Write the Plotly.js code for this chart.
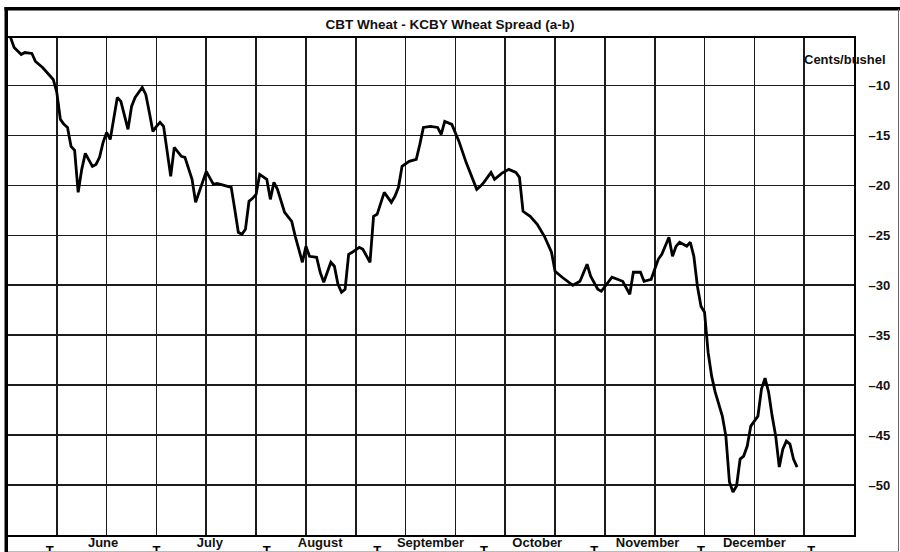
<!DOCTYPE html>
<html>
<head>
<meta charset="utf-8">
<script src="https://cdn.plot.ly/plotly-3.0.1.min.js"></script>
<style>
html,body{margin:0;padding:0;background:#fff;}
#chart{width:900px;height:552px;}
</style>
</head>
<body>
<div id="chart"></div>
<script>
// ---------- data ----------
const chartTitle = 'CBT Wheat - KCBY Wheat Spread (a-b)';
const unitLabel = 'Cents/bushel';

const dates = [
 '2023-05-21','2023-05-22','2023-05-24','2023-05-25','2023-05-27','2023-05-28','2023-05-30','2023-05-31',
 '2023-06-01','2023-06-02','2023-06-03','2023-06-04','2023-06-05','2023-06-06','2023-06-07','2023-06-08',
 '2023-06-09','2023-06-10','2023-06-11','2023-06-13','2023-06-14','2023-06-15','2023-06-16','2023-06-17',
 '2023-06-18','2023-06-20','2023-06-21','2023-06-23','2023-06-24','2023-06-25','2023-06-27','2023-06-28',
 '2023-06-29','2023-06-30',
 '2023-07-01','2023-07-02','2023-07-03','2023-07-04','2023-07-05','2023-07-06','2023-07-08','2023-07-09',
 '2023-07-11','2023-07-12','2023-07-13','2023-07-15','2023-07-17','2023-07-18','2023-07-19','2023-07-22',
 '2023-07-23','2023-07-24','2023-07-25','2023-07-26','2023-07-27','2023-07-28','2023-07-29','2023-07-30',
 '2023-08-01','2023-08-02','2023-08-03','2023-08-04','2023-08-06','2023-08-07','2023-08-08','2023-08-09',
 '2023-08-11','2023-08-12','2023-08-13','2023-08-15','2023-08-16','2023-08-17','2023-08-19','2023-08-20',
 '2023-08-21','2023-08-22','2023-08-23','2023-08-24','2023-08-25','2023-08-27','2023-08-28','2023-08-30',
 '2023-08-31',
 '2023-09-01','2023-09-03','2023-09-05','2023-09-06','2023-09-07','2023-09-08','2023-09-10','2023-09-12',
 '2023-09-13','2023-09-14','2023-09-16','2023-09-18','2023-09-19','2023-09-20','2023-09-22','2023-09-23',
 '2023-09-24','2023-09-26','2023-09-29','2023-09-30',
 '2023-10-01','2023-10-03','2023-10-04','2023-10-06','2023-10-08','2023-10-10','2023-10-11','2023-10-12',
 '2023-10-14','2023-10-16','2023-10-18','2023-10-20','2023-10-21','2023-10-23','2023-10-26','2023-10-28',
 '2023-10-30','2023-10-31',
 '2023-11-02','2023-11-03','2023-11-05','2023-11-06','2023-11-09','2023-11-11','2023-11-12','2023-11-14',
 '2023-11-15','2023-11-17','2023-11-19','2023-11-20','2023-11-22','2023-11-23','2023-11-24','2023-11-25',
 '2023-11-27','2023-11-28','2023-11-29','2023-11-30',
 '2023-12-01','2023-12-02','2023-12-03','2023-12-04','2023-12-05','2023-12-07','2023-12-08','2023-12-09',
 '2023-12-10','2023-12-11','2023-12-12','2023-12-13','2023-12-14','2023-12-15','2023-12-17','2023-12-18',
 '2023-12-19','2023-12-20','2023-12-21','2023-12-22','2023-12-23','2023-12-24','2023-12-25','2023-12-26',
 '2023-12-27','2023-12-28'
];

const spread = [
 -5.2,-6.2,-6.9,-6.7,-6.8,-7.6,-8.2,-8.6,
 -8.9,-9.4,-10.7,-13.4,-13.9,-14.2,-16.1,-16.5,
 -20.7,-18.4,-16.8,-18.1,-17.9,-17.2,-15.7,-14.7,
 -15.4,-11.2,-11.6,-14.4,-12.1,-11.2,-10.2,-10.9,
 -12.7,-14.6,
 -14.1,-13.7,-14.1,-16.4,-19.1,-16.2,-17.1,-17.2,
 -19.4,-21.7,-20.7,-18.6,-19.9,-19.8,-19.9,-20.2,
 -22.4,-24.7,-24.9,-24.4,-21.6,-21.3,-20.9,-18.9,
 -19.4,-21.4,-19.7,-20.4,-22.7,-23.2,-23.6,-25.1,
 -27.7,-26.1,-27.1,-27.2,-28.7,-29.7,-27.7,-28.1,
 -29.9,-30.7,-30.4,-26.9,-26.7,-26.2,-26.4,-27.7,
 -23.1,
 -22.9,-20.7,-21.7,-21.1,-20.2,-18.1,-17.6,-17.4,
 -15.9,-14.2,-14.1,-14.2,-14.9,-13.6,-13.9,-14.7,
 -15.6,-17.7,-20.4,-20.1,
 -19.7,-18.7,-19.4,-18.8,-18.4,-18.7,-19.2,-22.6,
 -23.1,-23.9,-25.1,-26.7,-28.6,-29.2,-30.0,-29.6,
 -27.9,-29.1,
 -30.4,-30.6,-29.7,-29.2,-29.6,-30.9,-28.7,-28.7,
 -29.6,-29.4,-27.4,-26.9,-25.2,-27.1,-26.1,-25.7,
 -26.1,-25.7,-27.1,-30.1,
 -32.1,-32.7,-36.7,-39.1,-40.7,-43.1,-45.1,-49.7,
 -50.7,-50.1,-47.4,-47.1,-46.1,-44.1,-43.1,-40.4,
 -39.3,-40.7,-43.1,-45.1,-48.2,-46.4,-45.6,-45.9,
 -47.4,-48.2
];

const yTicks = [-10,-15,-20,-25,-30,-35,-40,-45,-50];
const yTickText = yTicks.map(v => '\u2013' + Math.abs(v));
const months = ['June','July','August','September','October','November','December'];
const monthStarts = ['2023-06-01','2023-07-01','2023-08-01','2023-09-01','2023-10-01','2023-11-01','2023-12-01','2024-01-01'];
const xRange = ['2023-05-20','2024-01-13'];

// ---------- layout helpers ----------
const X0 = 7, X1 = 854, Y0 = 38, Y1 = 535;
const px = x => (x - X0) / (X1 - X0);
const py = y => (Y1 - y) / (Y1 - Y0);
const monthMids = monthStarts.slice(0, months.length).map(s => s.slice(0, 8) + '16');
const FONT = '"Liberation Sans", Arial, Helvetica, sans-serif';
const GRID = '#1c1c1c';

const traces = [
  {x: dates, y: spread, type: 'scatter', mode: 'lines', xaxis: 'x', yaxis: 'y',
   line: {color: '#000', width: 2.8}, hoverinfo: 'skip', showlegend: false},
  {x: [], y: [], type: 'scatter', mode: 'lines', xaxis: 'x2', yaxis: 'y', showlegend: false, hoverinfo: 'skip'},
  {x: [], y: [], type: 'scatter', mode: 'lines', xaxis: 'x3', yaxis: 'y', showlegend: false, hoverinfo: 'skip'}
];

const layout = {
  width: 900, height: 552,
  margin: {l: X0, r: 900 - X1, t: Y0, b: 552 - Y1, pad: 0},
  paper_bgcolor: '#fff', plot_bgcolor: '#fff',
  showlegend: false,
  font: {family: FONT, size: 13, color: '#000', weight: 'bold'},
  title: {
    text: chartTitle, xref: 'container', yref: 'container',
    x: 0.5, xanchor: 'center', y: 1 - 24 / 552, yanchor: 'middle',
    font: {family: FONT, size: 13.5, color: '#111', weight: 'bold'}
  },
  xaxis: {
    type: 'date', range: xRange, tick0: xRange[0], dtick: 14 * 86400000,
    showgrid: true, gridcolor: GRID, gridwidth: 1.6,
    showticklabels: false, ticks: '',
    showline: true, mirror: true, linecolor: '#000', linewidth: 2,
    zeroline: false, fixedrange: true
  },
  xaxis2: {
    type: 'date', overlaying: 'x', anchor: 'y', side: 'bottom', range: xRange,
    tickmode: 'array', tickvals: monthMids, ticktext: months,
    ticks: '', showgrid: false, showline: false, zeroline: false,
    tickfont: {family: FONT, size: 13, color: '#111', weight: 'bold'},
    ticklabelstandoff: -2
  },
  xaxis3: {
    type: 'date', overlaying: 'x', anchor: 'y', side: 'bottom', range: xRange,
    tickmode: 'array', tickvals: monthStarts, ticktext: monthStarts.map(() => 'T'),
    ticks: '', showgrid: false, showline: false, zeroline: false,
    tickfont: {family: FONT, size: 13, color: '#000', weight: 'bold'},
    ticklabelstandoff: 6
  },
  yaxis: {
    side: 'right', range: [-55, -5.25],
    tickmode: 'array', tickvals: yTicks, ticktext: yTickText,
    showgrid: true, gridcolor: GRID, gridwidth: 1.6,
    ticks: '', ticklabelstandoff: 10,
    tickfont: {family: FONT, size: 13, color: '#111', weight: 'bold'},
    showline: true, mirror: true, linecolor: '#000', linewidth: 2,
    zeroline: false, fixedrange: true
  },
  annotations: [
    {text: unitLabel, xref: 'paper', yref: 'paper', x: px(888), xanchor: 'right',
     y: py(60), yanchor: 'middle', showarrow: false,
     font: {family: FONT, size: 13, color: '#111', weight: 'bold'}}
  ],
  shapes: [
    {type: 'rect', xref: 'paper', yref: 'paper', x0: px(4.5), x1: px(8), y0: py(552), y1: py(7),
     fillcolor: '#000', line: {width: 0}, layer: 'above'},
    {type: 'rect', xref: 'paper', yref: 'paper', x0: px(4.5), x1: px(900), y0: py(10.5), y1: py(7),
     fillcolor: '#000', line: {width: 0}, layer: 'above'},
    {type: 'line', xref: 'paper', yref: 'paper', x0: px(898.5), x1: px(898.5), y0: py(552), y1: py(9),
     line: {color: '#666', width: 1}, layer: 'above'},
    {type: 'line', xref: 'paper', yref: 'paper', x0: px(8), x1: px(899), y0: py(551.5), y1: py(551.5),
     line: {color: '#bbb', width: 1}, layer: 'above'}
  ]
};

Plotly.newPlot('chart', traces, layout, {displayModeBar: false, staticPlot: true});
</script>
</body>
</html>
